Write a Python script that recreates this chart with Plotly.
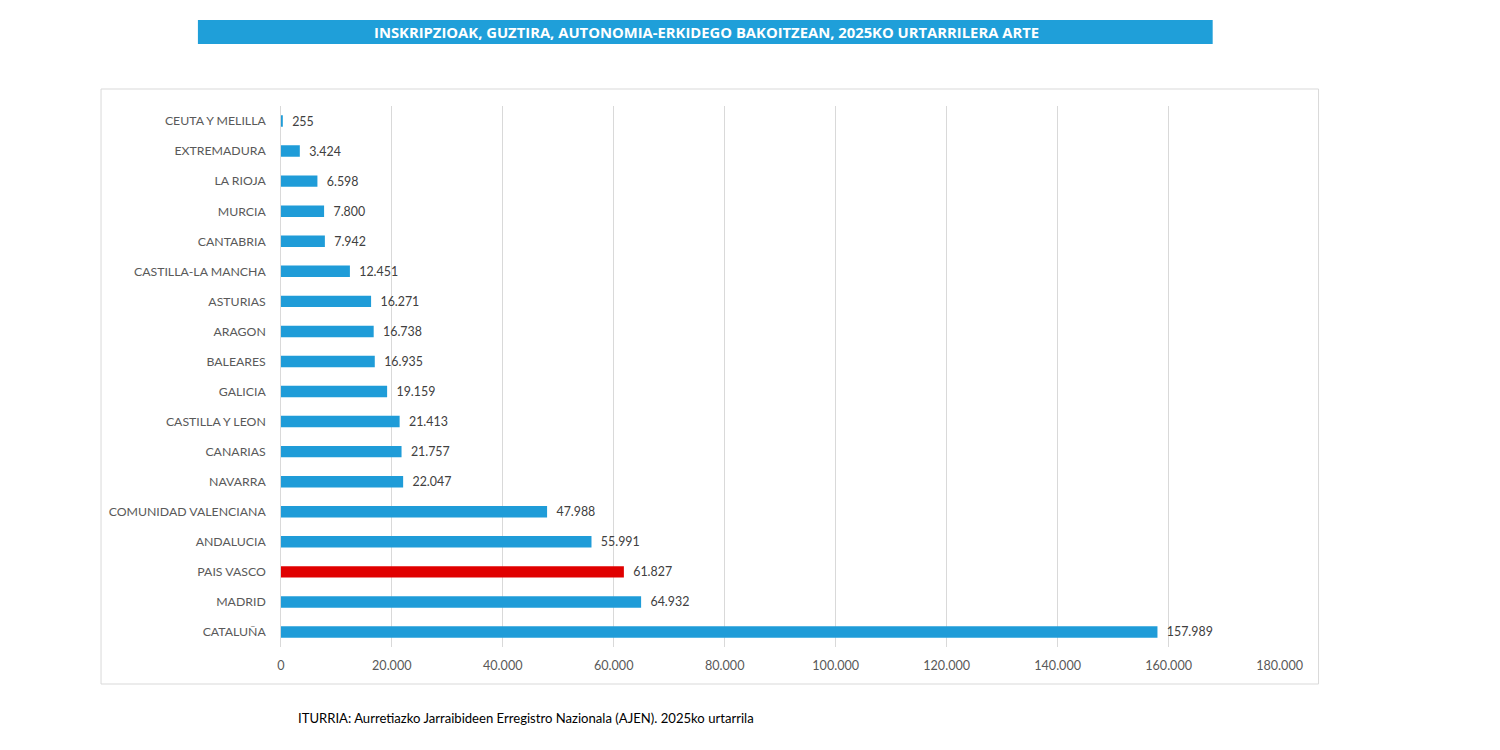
import plotly.graph_objects as go

regions = ["CEUTA Y MELILLA", "EXTREMADURA", "LA RIOJA", "MURCIA", "CANTABRIA",
           "CASTILLA-LA MANCHA", "ASTURIAS", "ARAGON", "BALEARES", "GALICIA",
           "CASTILLA Y LEON", "CANARIAS", "NAVARRA", "COMUNIDAD VALENCIANA",
           "ANDALUCIA", "PAIS VASCO", "MADRID", "CATALUÑA"]
values = [255, 3424, 6598, 7800, 7942, 12451, 16271, 16738, 16935, 19159,
          21413, 21757, 22047, 47988, 55991, 61827, 64932, 157989]
highlight = "PAIS VASCO"
tick_vals = [0, 20000, 40000, 60000, 80000, 100000, 120000, 140000, 160000, 180000]
title = "INSKRIPZIOAK, GUZTIRA, AUTONOMIA-ERKIDEGO BAKOITZEAN, 2025KO URTARRILERA ARTE"
source = "ITURRIA: Aurretiazko Jarraibideen Erregistro Nazionala (AJEN). 2025ko urtarrila"

BLUE = "#1F9CD8"
RED = "#E00000"
colors = [RED if r == highlight else BLUE for r in regions]

# figure is sized so that, with the page's default 8px body margin, it fills 1500x750
OFF = 8
W, H = 1500 - 2 * OFF, 750 - 2 * OFF
SX = 1 / 0.983  # horizontal correction observed in the rendered picture
DX = 3          # small horizontal shift correction


def px(x):
    return ((x - DX) * SX - OFF) / W


def py(y):
    return 1 - (y - OFF) / H


fig = go.Figure(go.Bar(
    x=values, y=regions, orientation="h",
    marker=dict(color=colors, line=dict(width=0)),
    texttemplate="  %{x:,}", textposition="outside", constraintext="none",
    textfont=dict(family="Lato, Open Sans, sans-serif", size=12.4, color="#404040"),
    cliponaxis=False, hoverinfo="skip",
))

fig.update_layout(
    width=W, height=H,
    margin=dict(l=0, r=0, t=0, b=0),
    paper_bgcolor="white", plot_bgcolor="white",
    separators=",.",
    bargap=0.62,
    showlegend=False,
    font=dict(family="Lato, Open Sans, sans-serif", color="#595959", size=12.2),
    xaxis=dict(
        domain=[px(280), px(1280)], range=[0, 180000],
        tickvals=tick_vals, tickformat=",",
        showgrid=True, gridcolor="#D9D9D9", gridwidth=1,
        zeroline=True, zerolinecolor="#D9D9D9", zerolinewidth=1,
        showline=False, ticks="", ticklen=0, ticklabelstandoff=9,
        tickfont=dict(size=12.6, color="#595959"),
        fixedrange=True,
    ),
    yaxis=dict(
        domain=[py(647), py(106)],
        autorange="reversed", showgrid=False, zeroline=False,
        ticks="", ticklen=0, ticklabelstandoff=14,
        tickfont=dict(size=12.3, color="#595959"),
        fixedrange=True,
    ),
    shapes=[
        dict(type="rect", xref="paper", yref="paper",
             x0=px(100), x1=px(1319), y0=py(684), y1=py(89),
             line=dict(color="#D9D9D9", width=1), fillcolor="rgba(0,0,0,0)", layer="below"),
        dict(type="rect", xref="paper", yref="paper",
             x0=px(197), x1=px(1213), y0=py(44), y1=py(20),
             line=dict(width=0), fillcolor="#1F9FD9", layer="below"),
    ],
    annotations=[
        dict(text="<b>" + title + "</b>", xref="paper", yref="paper",
             x=px(706), y=py(32), xanchor="center", yanchor="middle",
             showarrow=False,
             font=dict(family="Open Sans, sans-serif", size=14.8, color="white")),
        dict(text=source, xref="paper", yref="paper",
             x=px(295), y=py(718), xanchor="left", yanchor="middle",
             showarrow=False,
             font=dict(family="Lato, Open Sans, sans-serif", size=13.1, color="#000000")),
    ],
)

fig.write_html("out.html")
